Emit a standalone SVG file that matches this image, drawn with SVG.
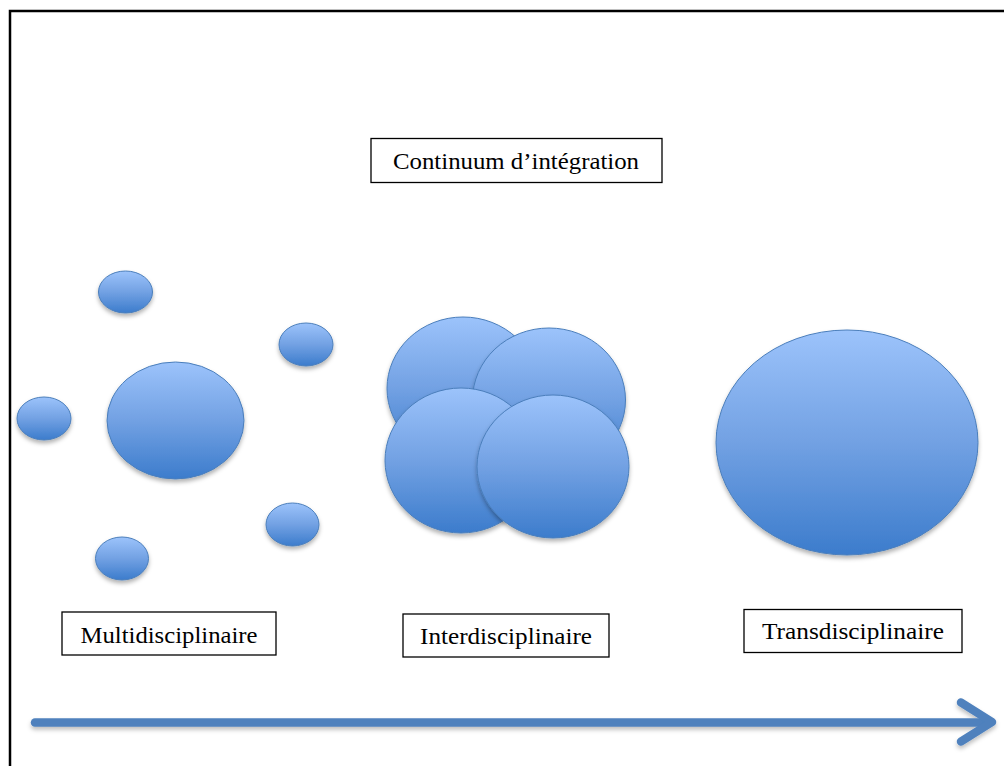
<svg xmlns="http://www.w3.org/2000/svg" width="1004" height="766" viewBox="0 0 1004 766">
<defs>
<linearGradient id="blue" x1="0" y1="0" x2="0" y2="1">
<stop offset="0" stop-color="#9cc3fb"/>
<stop offset="0.5" stop-color="#72a1e3"/>
<stop offset="1" stop-color="#3c7ccc"/>
</linearGradient>
<filter id="shadow" x="-20%" y="-20%" width="140%" height="150%">
<feDropShadow dx="0" dy="3" stdDeviation="2" flood-color="#000" flood-opacity="0.3"/>
</filter>
<filter id="ashadow" x="-5%" y="-100%" width="110%" height="300%">
<feDropShadow dx="0" dy="3" stdDeviation="2" flood-color="#000" flood-opacity="0.25"/>
</filter>
</defs>
<style>
.disc{fill:url(#blue);stroke:#4a7ebb;stroke-width:1;filter:url(#shadow)}
.box{fill:#fff;stroke:#000;stroke-width:1.3}
.lbl{font-family:"Liberation Serif","DejaVu Serif",serif;font-size:23.5px;fill:#000;text-anchor:middle}
.frame{fill:none;stroke:#000;stroke-width:2.5}
</style>
<rect width="1004" height="766" fill="#fff"/>
<path class="frame" d="M10,766 V11 H1004"/>

<g id="title">
<rect class="box" x="371" y="138.5" width="291" height="44"/>
<text class="lbl" x="516" y="168.5" textLength="246" lengthAdjust="spacingAndGlyphs">Continuum d’intégration</text>
</g>

<g id="multi">
<ellipse class="disc" cx="125.5" cy="292" rx="27" ry="21"/>
<ellipse class="disc" cx="306" cy="344.5" rx="27" ry="21.5"/>
<ellipse class="disc" cx="175.5" cy="420.5" rx="68.5" ry="58.5"/>
<ellipse class="disc" cx="44" cy="418.5" rx="27" ry="21.5"/>
<ellipse class="disc" cx="292.5" cy="524.5" rx="26.5" ry="21.5"/>
<ellipse class="disc" cx="122" cy="558.5" rx="26.5" ry="21.5"/>
</g>

<g id="inter">
<ellipse class="disc" cx="463" cy="388.5" rx="76" ry="71.5"/>
<ellipse class="disc" cx="549" cy="400" rx="76.5" ry="72"/>
<ellipse class="disc" cx="461" cy="460.5" rx="76" ry="72.5"/>
<ellipse class="disc" cx="553" cy="466.5" rx="76" ry="71.5"/>
</g>

<g id="trans">
<ellipse class="disc" cx="847" cy="442.5" rx="131" ry="112.5"/>
</g>

<g id="label-multi">
<rect class="box" x="62" y="612" width="214" height="43"/>
<text class="lbl" x="169" y="642.5" textLength="177" lengthAdjust="spacingAndGlyphs">Multidisciplinaire</text>
</g>
<g id="label-inter">
<rect class="box" x="403" y="614" width="206" height="43"/>
<text class="lbl" x="506" y="643.5" textLength="172" lengthAdjust="spacingAndGlyphs">Interdisciplinaire</text>
</g>
<g id="label-trans">
<rect class="box" x="744" y="609.5" width="218" height="43"/>
<text class="lbl" x="853" y="638.5" textLength="182" lengthAdjust="spacingAndGlyphs">Transdisciplinaire</text>
</g>

<g id="connectors">
<g filter="url(#ashadow)" stroke="#4f81bd" stroke-width="8.5" fill="none" stroke-linecap="round" stroke-linejoin="round">
<line x1="35" y1="722.5" x2="990" y2="722.5"/>
<polyline points="961,702.5 992,722 961,741.5"/>
</g>
</g>
</svg>
